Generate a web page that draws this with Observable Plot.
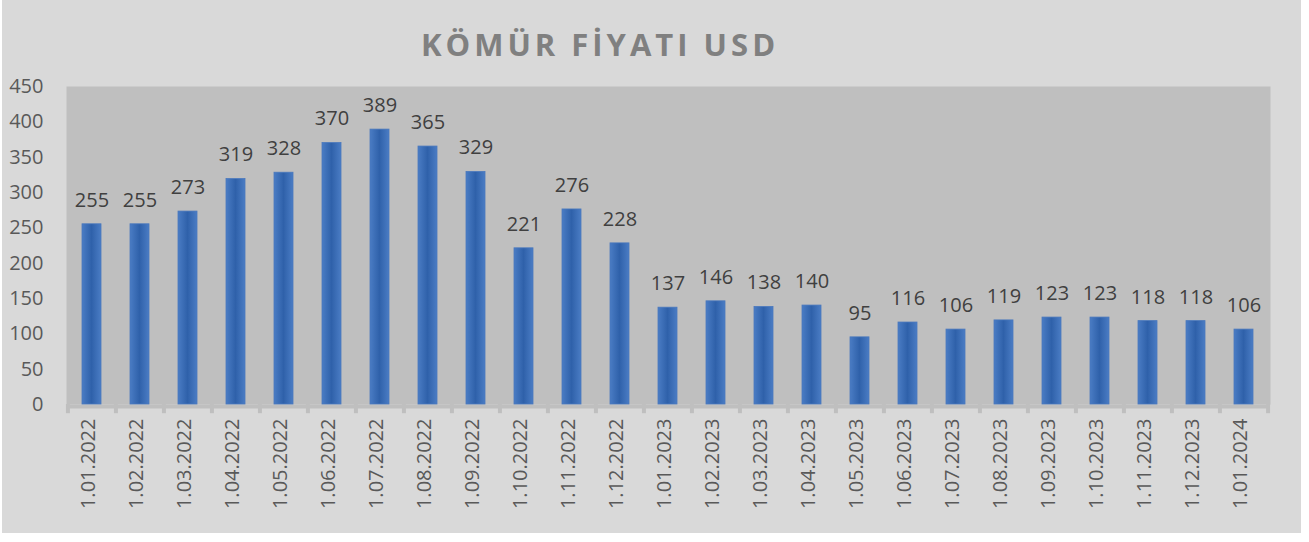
<!DOCTYPE html>
<html>
<head>
<meta charset="utf-8">
<script src="https://cdn.jsdelivr.net/npm/d3@7"></script>
<script src="https://cdn.jsdelivr.net/npm/@observablehq/plot@0.6"></script>
<style>
  html, body { margin: 0; padding: 0; background: #ffffff; }
  #chart { position: absolute; left: 2px; top: 0; width: 1299px; height: 533px; background: #d9d9d9; }
  #chart svg { display: block; }
</style>
</head>
<body>
<div id="chart"></div>
<script>
const title = "KÖMÜR FİYATI USD";
const categories = [
  "1.01.2022","1.02.2022","1.03.2022","1.04.2022","1.05.2022","1.06.2022",
  "1.07.2022","1.08.2022","1.09.2022","1.10.2022","1.11.2022","1.12.2022",
  "1.01.2023","1.02.2023","1.03.2023","1.04.2023","1.05.2023","1.06.2023",
  "1.07.2023","1.08.2023","1.09.2023","1.10.2023","1.11.2023","1.12.2023",
  "1.01.2024"
];
const values = [
  255, 255, 273, 319, 328, 370, 389, 365, 329, 221, 276, 228,
  137, 146, 138, 140, 95, 116, 106, 119, 123, 123, 118, 118,
  106
];
const yTicks = [0, 50, 100, 150, 200, 250, 300, 350, 400, 450];

const data = categories.map((c, i) => ({ date: c, value: values[i] }));
const font = "'Open Sans', sans-serif";
const step = (1299 - 64 - 31) / categories.length;

const chart = Plot.plot({
  width: 1299,
  height: 533,
  marginLeft: 64,
  marginRight: 31,
  marginTop: 86,
  marginBottom: 129,
  style: { background: "transparent", fontFamily: font, fontSize: "20px" },
  x: { type: "band", domain: categories, paddingInner: 0.6, paddingOuter: 0.3, axis: null },
  y: { domain: [0, 450], ticks: yTicks },
  marks: [
    Plot.frame({ fill: "#bfbfbf", stroke: null }),
    Plot.ruleY([0], { stroke: "#bfbfbf", strokeWidth: 4, dy: 2 }),
    Plot.ruleX(categories, { x: d => d, dx: -step / 2, y1: 0, y2: -13, stroke: "#bfbfbf", strokeWidth: 4 }),
    Plot.ruleX(categories.slice(-1), { x: d => d, dx: step / 2, y1: 0, y2: -13, stroke: "#bfbfbf", strokeWidth: 4 }),
    Plot.axisY({ ticks: yTicks, tickSize: 0, tickPadding: 23, label: null, color: "#595959", fontSize: 20 }),
    Plot.barY(data, { x: "date", y: "value", fill: "url(#barGrad)", stroke: "#4a78bd", strokeWidth: 0.8 }),
    Plot.text(data, { x: "date", y: "value", text: d => String(d.value), dy: -24, fill: "#404040", fontSize: 20 }),
    Plot.text(categories, { x: d => d, frameAnchor: "bottom", rotate: -90, textAnchor: "end", dx: 3, dy: 14, fill: "#595959", fontSize: 20 })
  ]
});

const svg = d3.select(chart);
const defs = svg.insert("defs", ":first-child");
const grad = defs.append("linearGradient").attr("id", "barGrad").attr("x1", 0).attr("x2", 1).attr("y1", 0).attr("y2", 0);
grad.append("stop").attr("offset", "0%").attr("stop-color", "#4a7cc4");
grad.append("stop").attr("offset", "50%").attr("stop-color", "#2f61aa");
grad.append("stop").attr("offset", "100%").attr("stop-color", "#4a7cc4");

svg.append("text")
  .attr("x", 598)
  .attr("y", 56)
  .attr("text-anchor", "middle")
  .attr("fill", "#808080")
  .style("font-family", font)
  .style("font-size", "31px")
  .style("font-weight", "700")
  .style("letter-spacing", "4px")
  .text(title);

document.getElementById("chart").appendChild(chart);
</script>
</body>
</html>
